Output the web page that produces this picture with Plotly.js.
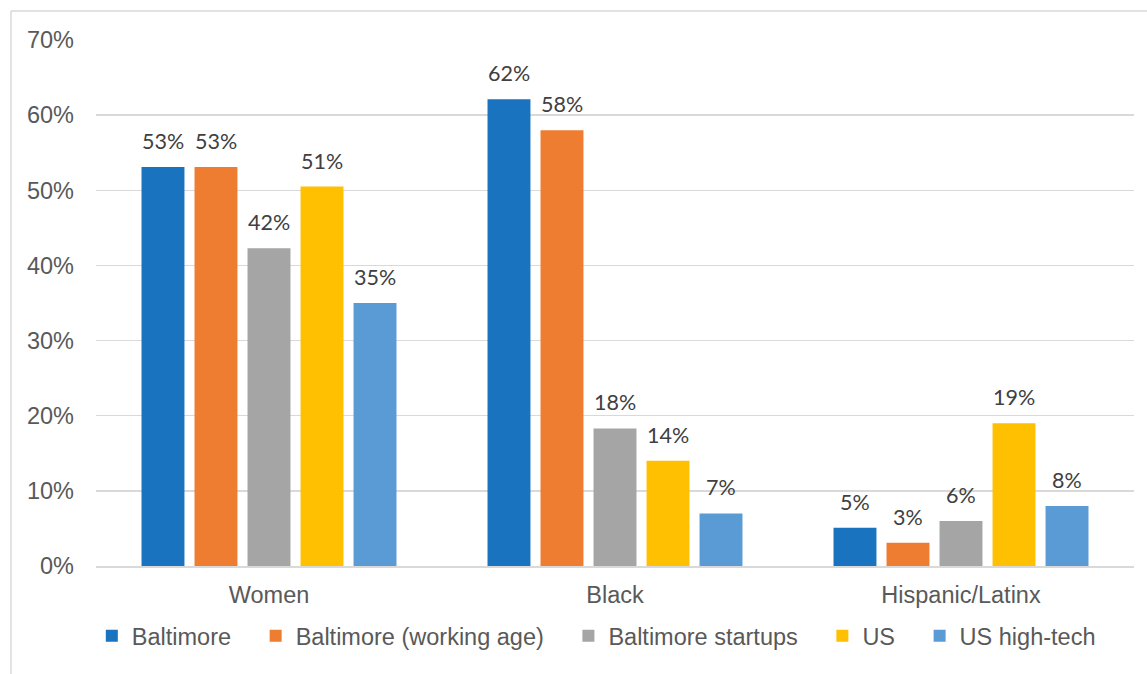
<!DOCTYPE html>
<html>
<head>
<meta charset="utf-8">
<script src="https://cdn.plot.ly/plotly-3.0.1.min.js"></script>
<style>
  html, body { margin: 0; padding: 0; background: #ffffff; }
  #chart { width: 1147px; height: 674px; }
</style>
</head>
<body>
<div id="chart"></div>
<script>
// ---- data ----
var categories = ["Women", "Black", "Hispanic/Latinx"];
var seriesNames = ["Baltimore", "Baltimore (working age)", "Baltimore startups", "US", "US high-tech"];
var baltimore = [53.1, 62.1, 5.1];
var baltimoreWorkingAge = [53.1, 58.0, 3.1];
var baltimoreStartups = [42.3, 18.3, 6.0];
var us = [50.5, 14.0, 19.0];
var usHighTech = [35.0, 7.0, 8.0];
var yTickValues = [0, 10, 20, 30, 40, 50, 60, 70];
var yTickLabels = ["0%", "10%", "20%", "30%", "40%", "50%", "60%", "70%"];

// ---- styles ----
var colors = ["#1a73be", "#ee7d31", "#a5a5a5", "#fec000", "#5b9bd5"];
var seriesValues = [baltimore, baltimoreWorkingAge, baltimoreStartups, us, usHighTech];
var BARGAP = 0.234;
var BARGROUPGAP = 0.19;
var FONT = "'Liberation Sans', Arial, sans-serif";
var FS = 23.5;
var LEGEND_PAD = "\u00A0\u00A0\u00A0"; // extra spacing between legend entries

var traces = seriesValues.map(function (vals, i) {
  return {
    type: "bar",
    name: seriesNames[i] + (i < seriesValues.length - 1 ? LEGEND_PAD : ""),
    x: categories,
    y: vals,
    marker: { color: colors[i] },
    hoverinfo: "y"
  };
});

// data labels above each bar, anchored in data coordinates
var nSeries = seriesValues.length;
var slot = (1 - BARGAP) / nSeries;
var annotations = [];
seriesValues.forEach(function (vals, i) {
  vals.forEach(function (v, c) {
    annotations.push({
      xref: "x", yref: "y",
      x: c + (i - (nSeries - 1) / 2) * slot,
      y: v,
      text: Math.round(v) + "%",
      showarrow: false,
      xanchor: "center",
      yanchor: "bottom",
      yshift: 11,
      font: { family: "Lato, 'Open Sans', sans-serif", size: 21.5, color: "#404040" }
    });
  });
});

var layout = {
  width: 1147,
  height: 674,
  margin: { l: 96, r: 13, t: 40, b: 108 },
  paper_bgcolor: "#ffffff",
  plot_bgcolor: "#ffffff",
  barmode: "group",
  bargap: BARGAP,
  bargroupgap: BARGROUPGAP,
  font: { family: FONT, size: FS, color: "#595959" },
  showlegend: true,
  legend: {
    orientation: "h",
    x: 0.482, xanchor: "center",
    y: -0.133, yanchor: "middle",
    bgcolor: "rgba(0,0,0,0)",
    font: { family: FONT, size: FS, color: "#595959" },
    traceorder: "normal"
  },
  xaxis: {
    type: "category",
    showgrid: false,
    showline: true,
    linecolor: "#d9d9d9",
    linewidth: 1.5,
    ticks: "",
    ticklabelstandoff: 7,
    tickfont: { family: FONT, size: FS, color: "#595959" },
    fixedrange: true
  },
  yaxis: {
    range: [0, 70],
    tickvals: yTickValues,
    ticktext: yTickLabels,
    showgrid: true,
    gridcolor: "#d9d9d9",
    gridwidth: 1.5,
    zeroline: false,
    showline: false,
    ticks: "",
    ticklabelstandoff: 21,
    tickfont: { family: FONT, size: FS, color: "#595959" },
    fixedrange: true
  },
  annotations: annotations,
  shapes: [
    { type: "line", xref: "paper", yref: "paper", x0: -0.0819, x1: 1.02, y0: 1.0551, y1: 1.0551,
      line: { color: "#d9d9d9", width: 1.5 } },
    { type: "line", xref: "paper", yref: "paper", x0: -0.0819, x1: -0.0819, y0: 1.0551, y1: -0.21,
      line: { color: "#d9d9d9", width: 1.5 } }
  ]
};

Plotly.newPlot("chart", traces, layout, { staticPlot: true, displayModeBar: false });
</script>
</body>
</html>
